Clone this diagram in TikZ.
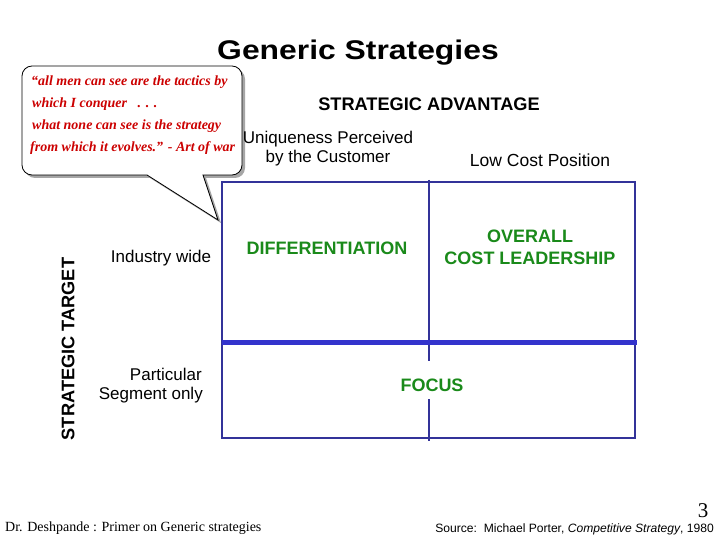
\documentclass[tikz,border=0pt]{standalone}
\usepackage{fontspec}
\setmainfont{Liberation Sans}
\newfontfamily\serifface[Ligatures=TeX]{Liberation Serif}
\definecolor{gridblue}{HTML}{333399}
\definecolor{thickblue}{HTML}{3333CC}
\definecolor{quotered}{HTML}{CC0000}
\definecolor{stratgreen}{HTML}{1A8A1A}
\tikzset{
  lbl/.style={inner sep=0pt, align=center, font=\fontsize{17}{19}\selectfont},
  hdr/.style={inner sep=0pt, align=center, font=\fontsize{18.2}{20}\selectfont\bfseries},
  quad/.style={inner sep=0pt, align=center, text=stratgreen, font=\fontsize{18}{22}\selectfont\bfseries},
  quote/.style={inner sep=0pt, anchor=west, text=quotered, font=\serifface\fontsize{14}{16}\selectfont\bfseries\itshape},
}
\begin{document}
\begin{tikzpicture}[x=1pt,y=-1pt]
\useasboundingbox (0,0) rectangle (720,540);
\fill[white] (0,0) rectangle (720,540);
% title
\node[inner sep=0pt, font=\fontsize{27}{30}\selectfont\bfseries] (title) at (358,53) {\scalebox{1.18}[1]{Generic Strategies}};
% callout
\fill[gray!70] (25,69) [rounded corners=10pt] -- (245,69) -- (245,178) [sharp corners] -- (206,178) -- (221,223) -- (150,178) [rounded corners=10pt] -- (25,178) -- cycle;
\draw[fill=white, line width=0.8pt] (22,66) [rounded corners=10pt] -- (242,66) -- (242,175) [sharp corners] -- (203,175) -- (218,220) -- (147,175) [rounded corners=10pt] -- (22,175) -- cycle;
\node[quote] (q1) at (31,82) {“all men can see are the tactics by};
\node[quote] (q2) at (32,104) {which I conquer\ \ \ . . .};
\node[quote] (q3) at (32,126) {what none can see is the strategy};
\node[quote] (q4) at (30,148) {from which it evolves.” - Art of war};
% headers
\node[hdr] (adv) at (429,104) {STRATEGIC ADVANTAGE};
\node[lbl] (uniq) at (328,148.5) {Uniqueness Perceived\\by the Customer};
\node[lbl, font=\fontsize{17.5}{19}\selectfont] (low) at (540,160) {Low Cost Position};
\node[hdr, rotate=90] (target) at (68,349) {STRATEGIC TARGET};
\node[lbl] (ind) at (161,258) {Industry wide};
\node[lbl, align=right, anchor=east] (seg) at (203,386) {Particular\hspace*{1pt}\\Segment only};
% grid
\coordinate (tl) at (222,182);
\coordinate (br) at (635,438);
\coordinate (vt) at (429,180);
\coordinate (vb) at (429,441);
\coordinate (hl) at (222,342);
\coordinate (hr) at (637,342);
\draw[gridblue, line width=2pt] (tl) rectangle (br);
\draw[gridblue, line width=2pt] (vt) -- (vb);
\draw[thickblue, line width=5pt] (hl) -- (hr);
% quadrant labels
\node[quad] (diff) at (327,248) {DIFFERENTIATION};
\node[quad] (ocl) at (530,247) {OVERALL\\COST LEADERSHIP};
\fill[white] (400,361) rectangle (465,399);
\node[quad] (focus) at (432,385) {FOCUS};
% footer
\node[inner sep=0pt, anchor=west, font=\serifface\fontsize{14}{16}\selectfont] (auth) at (5,528) {Dr. Deshpande : Primer on Generic strategies};
\node[inner sep=0pt, anchor=east, font=\fontsize{12.1}{14}\selectfont] (src) at (714,529) {Source:\ \ Michael Porter, \textit{Competitive Strategy}, 1980};
\node[inner sep=0pt, font=\serifface\fontsize{21}{22}\selectfont] (pg) at (703,511) {3};
\end{tikzpicture}
\end{document}
